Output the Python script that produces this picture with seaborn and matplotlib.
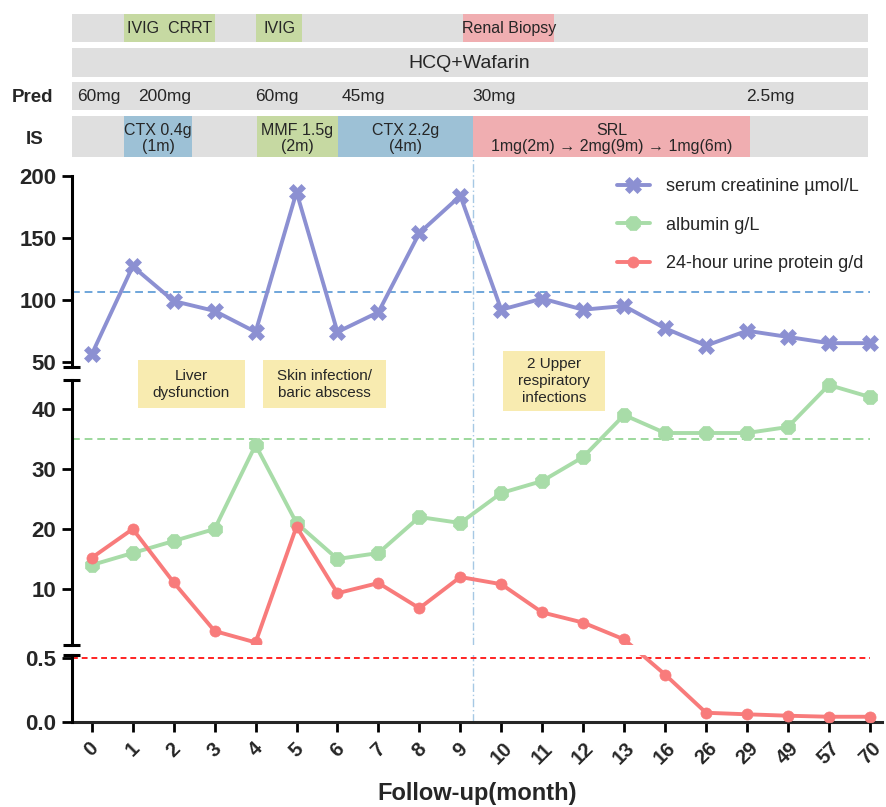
import numpy as np
import pandas as pd
import matplotlib
matplotlib.use("Agg")
import matplotlib.pyplot as plt
import matplotlib.transforms as mtransforms
from matplotlib.patches import Rectangle
import seaborn as sns

# ---------------- data ----------------
months = ['0', '1', '2', '3', '4', '5', '6', '7', '8', '9', '10', '11', '12',
          '13', '16', '26', '29', '49', '57', '70']
creatinine = [56, 127, 99, 91, 74, 187, 74, 90, 154, 184, 92, 101, 92, 95,
              77, 63, 75, 70, 65, 65]
albumin = [14, 16, 18, 20, 34, 21, 15, 16, 22, 21, 26, 28, 32, 39, 36, 36,
           36, 37, 44, 42]
protein = [15.2, 20, 11.1, 3.0, 1.1, 20.4, 9.3, 11.0, 6.8, 12.0, 10.8, 6.1,
           4.4, 1.6, 0.37, 0.074, 0.062, 0.051, 0.043, 0.043]

creat_ref = 106
alb_ref = 35
prot_ref = 0.5

series_labels = ['serum creatinine µmol/L', 'albumin g/L', '24-hour urine protein g/d']

# timeline (positions in follow-up index units)
event_labels = ['IVIG  CRRT', 'IVIG', 'Renal Biopsy']
event_start = [0.79, 4.01, 9.07]
event_end = [3.01, 5.14, 11.29]
base_label = 'HCQ+Wafarin'
pred_labels = ['60mg', '200mg', '60mg', '45mg', '30mg', '2.5mg']
pred_start = [-0.36, 1.14, 4.0, 6.1, 9.29, 15.98]
is_labels = ['CTX 0.4g\n(1m)', 'MMF 1.5g\n(2m)', 'CTX 2.2g\n(4m)',
             'SRL\n1mg(2m) → 2mg(9m) → 1mg(6m)']
is_start = [0.79, 4.04, 6.01, 9.31]
is_end = [2.45, 6.01, 9.31, 16.07]
timeline_span = (-0.53, 18.96)
biopsy_pos = 9.31

notes = ['Liver\ndysfunction', 'Skin infection/\nbaric abscess',
         '2 Upper\nrespiratory\ninfections']
note_start = [1.13, 4.18, 10.04]
note_end = [3.74, 7.19, 12.54]

# ---------------- style ----------------
sns.set_style("ticks")
plt.rcParams['font.family'] = ['Liberation Sans', 'DejaVu Sans']
plt.rcParams['xtick.labelsize'] = 14.5
plt.rcParams['ytick.labelsize'] = 16

C_CREAT = '#8C90D2'
C_ALB = '#A8DCA8'
C_PROT = '#F87B7B'
C_GRAY = '#DFDFDF'
C_GREEN = '#C6D9A2'
C_BLUE = '#9DC1D6'
C_PINK = '#F0AEB1'
C_YELLOW = '#F8EBB0'

fig = plt.figure(figsize=(8.86, 8.07), dpi=100)
W, H = 886.0, 807.0

# broken y scale (piecewise linear)
seg_v = [-1, 0, 0.52, 0.67, 44.9, 46, 200, 1000]
seg_u = [-129, 0, 67.1, 77.3, 342.7, 355.65, 546.3, 1536.7]


def fwd(v):
    return np.interp(np.asarray(v, dtype=float), seg_v, seg_u)


def inv(u):
    return np.interp(np.asarray(u, dtype=float), seg_u, seg_v)


ax_left, ax_right = 71.7, 881.7
ax_bottom, ax_top = 722.3, 176.0
ax = fig.add_axes([ax_left / W, 1 - ax_bottom / H, (ax_right - ax_left) / W,
                   (ax_bottom - ax_top) / H])
ax.set_yscale('function', functions=(fwd, inv))

pos = np.arange(len(months))
df = pd.DataFrame({'pos': pos, 'creatinine': creatinine,
                   'albumin': albumin, 'protein': protein})

sns.lineplot(data=df, x='pos', y='creatinine', ax=ax, color=C_CREAT, marker='X',
             markersize=11, markeredgecolor=C_CREAT, markeredgewidth=0.5,
             linewidth=2.8, label=series_labels[0], zorder=3)
sns.lineplot(data=df, x='pos', y='albumin', ax=ax, color=C_ALB, marker='8',
             markersize=10.5, markeredgecolor=C_ALB, markeredgewidth=0.5,
             linewidth=2.8, label=series_labels[1], zorder=3)
sns.lineplot(data=df, x='pos', y='protein', ax=ax, color=C_PROT, marker='o',
             markersize=8, markeredgecolor=C_PROT, markeredgewidth=0.5,
             linewidth=2.8, label=series_labels[2], zorder=3)

xmin, xmax = -0.49, 19.29
ax.set_xlim(xmin, xmax)
ax.set_ylim(0, 200)

# reference lines
ax.hlines(creat_ref, xmin, 19.0, colors='#6FA6DA', linestyles=(0, (4, 2.5)), lw=1.4, zorder=2)
ax.hlines(alb_ref, xmin, 19.0, colors='#9CD89C', linestyles=(0, (4, 2.5)), lw=1.4, zorder=2)
ax.hlines(prot_ref, xmin, 19.0, colors='#FF2222', linestyles=(0, (3, 2)), lw=1.4, zorder=2)

# gap of the break
ax.axhspan(0.52, 0.67, color='white', zorder=4, lw=0)

blend = mtransforms.blended_transform_factory(ax.transData, ax.transAxes)
ax.plot([biopsy_pos, biopsy_pos], [0, (ax_bottom - 157) / (ax_bottom - ax_top)],
        transform=blend, color='#A6C8E4', lw=1.0, ls=(0, (6, 2, 1, 2)),
        clip_on=False, zorder=1)

# annotation boxes
note_y = [(0.575, 0.663), (0.575, 0.663), (0.570, 0.680)]
for lab, s, e, (y0, y1) in zip(notes, note_start, note_end, note_y):
    ax.add_patch(Rectangle((s, y0), e - s, y1 - y0, transform=blend,
                           facecolor=C_YELLOW, edgecolor='none', zorder=1))
    ax.text((s + e) / 2, (y0 + y1) / 2, lab, transform=blend, ha='center',
            va='center', fontsize=11, linespacing=1.25, zorder=2)

# axes styling
for sp in ['top', 'right', 'left']:
    ax.spines[sp].set_visible(False)
ax.spines['bottom'].set_linewidth(2.2)
ytrans = ax.get_yaxis_transform()
for lo, hi in [(0, 0.52), (0.67, 44.9), (46, 200)]:
    ax.plot([0, 0], [lo, hi], transform=ytrans, color='k', lw=2.2,
            clip_on=False, solid_capstyle='projecting', zorder=6)
for yv in [0.52, 0.67, 44.9, 46]:
    ax.plot([-0.0112, 0.0100], [yv, yv], transform=ytrans, color='k', lw=2.2,
            clip_on=False, solid_capstyle='butt', zorder=6)

yt = [0, 0.5, 10, 20, 30, 40, 50, 100, 150, 200]
ax.set_yticks(yt)
ax.set_yticklabels(['0.0', '0.5', '10', '20', '30', '40', '50', '100', '150', '200'])
ax.yaxis.set_minor_locator(matplotlib.ticker.NullLocator())
ax.set_xticks(pos)
ax.set_xticklabels(months)
ax.tick_params(axis='both', length=7, width=2.0, color='k')
ax.tick_params(axis='y', pad=4, labelsize=16)
ax.tick_params(axis='x', pad=5, labelsize=14.5, labelrotation=45)
ax.set_xlabel('Follow-up(month)', fontsize=17, fontweight='bold', labelpad=10)
ax.set_ylabel('')

ax.legend(loc='upper left', bbox_to_anchor=(617 / W, 1 - 178 / H),
          bbox_transform=fig.transFigure, frameon=False, fontsize=13,
          handlelength=1.8, handletextpad=0.9, labelspacing=1.2,
          borderpad=0, borderaxespad=0)

# ---------------- timeline ----------------
tl_top, tl_bot = 14.0, 157.0
tax = fig.add_axes([ax_left / W, 1 - tl_bot / H, (ax_right - ax_left) / W,
                    (tl_bot - tl_top) / H])
tax.set_xlim(xmin, xmax)
tax.set_ylim(tl_bot, tl_top)
tax.axis('off')

rows = [(28.0, 28.0), (62.5, 29.0), (96.0, 28.0), (136.5, 41.0)]
for yc, h in rows:
    tax.barh(yc, timeline_span[1] - timeline_span[0], left=timeline_span[0],
             height=h, color=C_GRAY, lw=0)

ev_colors = [C_GREEN, C_GREEN, C_PINK]
tax.barh([rows[0][0]] * 3, np.subtract(event_end, event_start), left=event_start,
         height=rows[0][1], color=ev_colors, lw=0)
for lab, s, e in zip(event_labels, event_start, event_end):
    tax.text((s + e) / 2, rows[0][0] + 0.5, lab, ha='center', va='center', fontsize=11.5)

tax.text(sum(timeline_span) / 2, rows[1][0] + 0.5, base_label, ha='center',
         va='center', fontsize=14)

for lab, s in zip(pred_labels, pred_start):
    tax.text(s, rows[2][0] + 0.5, lab, ha='left', va='center', fontsize=12.5)

is_colors = [C_BLUE, C_GREEN, C_BLUE, C_PINK]
tax.barh([rows[3][0]] * 4, np.subtract(is_end, is_start), left=is_start,
         height=rows[3][1], color=is_colors, lw=0)
for lab, s, e in zip(is_labels, is_start, is_end):
    tax.text((s + e) / 2, rows[3][0] + 2, lab, ha='center', va='center',
             fontsize=11.5, linespacing=1.1)

fig.text(32.5 / W, 1 - 98 / H, 'Pred', ha='center', va='center', fontsize=13.5,
         fontweight='bold')
fig.text(35 / W, 1 - 139 / H, 'IS', ha='center', va='center', fontsize=13.5,
         fontweight='bold')

fig.canvas.draw()
for lbl in ax.get_yticklabels():
    lbl.set_fontweight('bold')
    lbl.set_fontsize(16)
for lbl in ax.get_xticklabels():
    lbl.set_fontweight('bold')
    lbl.set_fontsize(14.5)
    lbl.set_ha('center')

fig.savefig('out.png', dpi=100)
